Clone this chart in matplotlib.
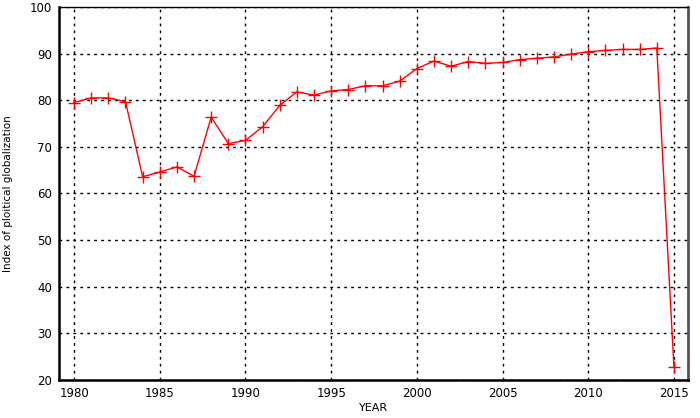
import matplotlib
matplotlib.use("Agg")
import matplotlib.pyplot as plt

years = list(range(1980, 2016))
index_values = [
    79.5, 80.5, 80.5, 79.7, 63.6, 64.6, 65.7, 63.7, 76.4, 70.7,
    71.4, 74.3, 78.9, 81.8, 81.1, 82.0, 82.3, 83.1, 83.1, 84.1,
    86.8, 88.4, 87.3, 88.3, 87.9, 88.1, 88.7, 89.0, 89.3, 89.9,
    90.4, 90.7, 90.9, 90.9, 91.2, 22.7,
]
x_ticks = [1980, 1985, 1990, 1995, 2000, 2005, 2010, 2015]
y_ticks = [20, 30, 40, 50, 60, 70, 80, 90, 100]

fig = plt.figure(figsize=(7, 4.18), dpi=100)
ax = fig.add_axes([59 / 700, 1 - 380 / 418, 629 / 700, 373 / 418])

ax.plot(years, index_values, color="red", linewidth=1.0,
        marker="+", markersize=9, markeredgewidth=1.0)

ax.set_xlim(1979.12, 2015.82)
ax.set_ylim(20, 100)
ax.set_xticks(x_ticks)
ax.set_yticks(y_ticks)
ax.tick_params(axis="both", length=0, labelsize=8.5, pad=5, colors="black")
for lbl in ax.get_xticklabels() + ax.get_yticklabels():
    lbl.set_fontfamily("DejaVu Sans")

ax.grid(True, color="black", linestyle=(0, (2, 3)), linewidth=1.0)
ax.set_axisbelow(True)

ax.spines["left"].set_linewidth(1.8)
ax.spines["bottom"].set_linewidth(1.8)
ax.spines["top"].set_linewidth(1.0)
ax.spines["right"].set_linewidth(2.0)
ax.spines["right"].set_color("#555555")

ax.set_xlabel("YEAR", fontsize=8, family="DejaVu Sans", labelpad=2)
ax.set_ylabel("Index of ploitical globalization", fontsize=7.5,
              family="Liberation Sans Narrow", labelpad=12)

fig.savefig("out.png", dpi=100)
